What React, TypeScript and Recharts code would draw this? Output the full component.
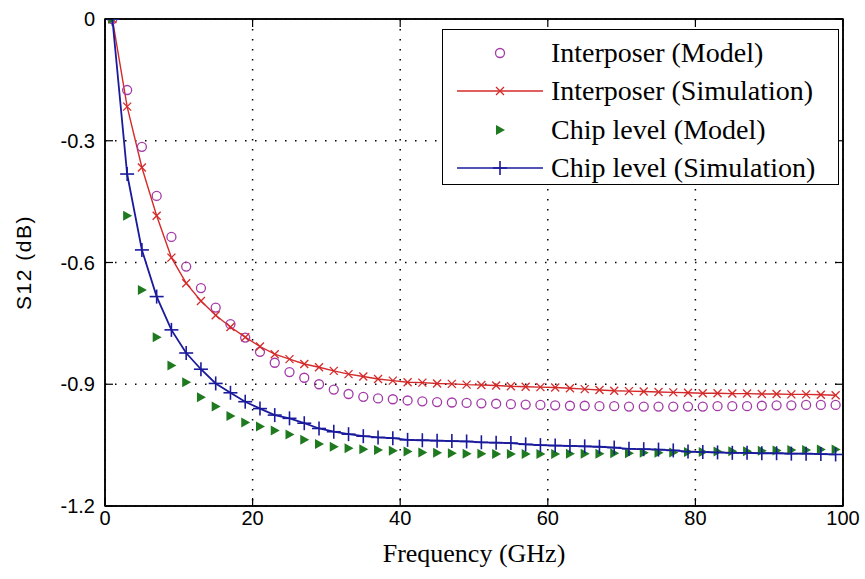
import React from "react";
import {
  LineChart,
  Line,
  XAxis,
  YAxis,
  CartesianGrid,
  Legend,
  ReferenceArea,
} from "recharts";

// frequency points (GHz)
const FREQ = [
  1, 3, 5, 7, 9, 11, 13, 15, 17, 19, 21, 23, 25, 27, 29, 31, 33, 35, 37, 39,
  41, 43, 45, 47, 49, 51, 53, 55, 57, 59, 61, 63, 65, 67, 69, 71, 73, 75, 77, 79,
  81, 83, 85, 87, 89, 91, 93, 95, 97, 99,
];

// S12 (dB)
const INTERPOSER_MODEL = [
  0, -0.175, -0.315, -0.436, -0.537, -0.61, -0.663, -0.711, -0.752, -0.785,
  -0.82, -0.847, -0.87, -0.884, -0.9, -0.913, -0.924, -0.931, -0.935, -0.937,
  -0.94, -0.942, -0.944, -0.945, -0.946, -0.947, -0.948, -0.949, -0.95, -0.951,
  -0.952, -0.953, -0.953, -0.954, -0.954, -0.955, -0.955, -0.955, -0.955, -0.955,
  -0.955, -0.954, -0.954, -0.954, -0.953, -0.952, -0.952, -0.951, -0.951, -0.951,
];
const INTERPOSER_SIM = [
  0, -0.216, -0.366, -0.485, -0.588, -0.651, -0.695, -0.73, -0.759, -0.784,
  -0.807, -0.826, -0.838, -0.85, -0.858, -0.867, -0.875, -0.881, -0.887, -0.891,
  -0.895, -0.896, -0.898, -0.899, -0.901, -0.902, -0.903, -0.905, -0.906, -0.907,
  -0.908, -0.91, -0.912, -0.914, -0.916, -0.917, -0.918, -0.919, -0.92, -0.921,
  -0.922, -0.922, -0.923, -0.923, -0.924, -0.924, -0.925, -0.925, -0.926, -0.927,
];
const CHIP_MODEL = [
  0, -0.485, -0.668, -0.784, -0.854, -0.895, -0.932, -0.955, -0.978, -0.994,
  -1.004, -1.014, -1.024, -1.037, -1.047, -1.054, -1.058, -1.06, -1.062, -1.064,
  -1.066, -1.068, -1.069, -1.07, -1.071, -1.071, -1.072, -1.072, -1.072, -1.072,
  -1.072, -1.071, -1.071, -1.071, -1.07, -1.07, -1.069, -1.069, -1.068, -1.067,
  -1.067, -1.066, -1.065, -1.065, -1.064, -1.063, -1.062, -1.062, -1.061, -1.061,
];
const CHIP_SIM = [
  0, -0.382, -0.569, -0.684, -0.766, -0.823, -0.863, -0.898, -0.921, -0.943,
  -0.96, -0.976, -0.984, -0.996, -1.009, -1.017, -1.023, -1.028, -1.031, -1.033,
  -1.037, -1.038, -1.039, -1.04, -1.041, -1.043, -1.044, -1.045, -1.048, -1.05,
  -1.051, -1.052, -1.053, -1.054, -1.056, -1.059, -1.06, -1.061, -1.063, -1.066,
  -1.067, -1.068, -1.069, -1.069, -1.07, -1.07, -1.071, -1.071, -1.072, -1.073,
];

const X_TICKS = [0, 20, 40, 60, 80, 100];
const Y_TICKS = [-1.2, -0.9, -0.6, -0.3, 0];

const LEGEND_LABELS = [
  "Interposer (Model)",
  "Interposer (Simulation)",
  "Chip level (Model)",
  "Chip level (Simulation)",
];

const MAGENTA = "#a33aa8";
const RED = "#d42a2a";
const GREEN = "#1f7a1f";
const BLUE = "#1a1a9c";

const SANS = "Liberation Sans, Arial, sans-serif";
const SERIF = "Liberation Serif, Times New Roman, serif";
const TICK_LEN = 8;

const chartRows = FREQ.map((f, i) => ({
  f,
  im: INTERPOSER_MODEL[i],
  is: INTERPOSER_SIM[i],
  cm: CHIP_MODEL[i],
  cs: CHIP_SIM[i],
}));

function CircleMark({ cx, cy }: { cx: number; cy: number }) {
  return <circle cx={cx} cy={cy} r={4.5} fill="none" stroke={MAGENTA} strokeWidth={1.3} />;
}

function CrossMark({ cx, cy }: { cx: number; cy: number }) {
  const s = 4;
  return (
    <g stroke={RED} strokeWidth={1.3}>
      <line x1={cx - s} y1={cy - s} x2={cx + s} y2={cy + s} />
      <line x1={cx - s} y1={cy + s} x2={cx + s} y2={cy - s} />
    </g>
  );
}

function TriangleMark({ cx, cy }: { cx: number; cy: number }) {
  return <polygon points={`${cx - 4},${cy - 5} ${cx + 5},${cy} ${cx - 4},${cy + 5}`} fill={GREEN} />;
}

function PlusMark({ cx, cy }: { cx: number; cy: number }) {
  const s = 7;
  return (
    <g stroke={BLUE} strokeWidth={1.6}>
      <line x1={cx - s} y1={cy} x2={cx + s} y2={cy} />
      <line x1={cx} y1={cy - s} x2={cx} y2={cy + s} />
    </g>
  );
}

const MARKS = [CircleMark, CrossMark, TriangleMark, PlusMark];
const LEGEND_LINES = [null, RED, null, BLUE];

// tick label plus an inward tick mark (MATLAB style)
function BottomTick({ x, y, payload }: any) {
  return (
    <g>
      <line x1={x} y1={y} x2={x} y2={y - TICK_LEN} stroke="#000" strokeWidth={1.2} />
      <text x={x} y={y + 19} textAnchor="middle" fontFamily={SANS} fontSize={20} fill="#000">
        {payload.value}
      </text>
    </g>
  );
}

function LeftTick({ x, y, payload }: any) {
  return (
    <g>
      <line x1={x} y1={y} x2={x + TICK_LEN} y2={y} stroke="#000" strokeWidth={1.2} />
      <text x={x - 10} y={y + 7} textAnchor="end" fontFamily={SANS} fontSize={20} fill="#000">
        {payload.value}
      </text>
    </g>
  );
}

function TopTick({ x, y }: any) {
  return <line x1={x} y1={y} x2={x} y2={y + TICK_LEN} stroke="#000" strokeWidth={1.2} />;
}

function RightTick({ x, y }: any) {
  return <line x1={x} y1={y} x2={x - TICK_LEN} y2={y} stroke="#000" strokeWidth={1.2} />;
}

function XTitle({ viewBox }: any) {
  const { x, y, width } = viewBox;
  return (
    <text x={x + width / 2} y={y + 56} textAnchor="middle" fontFamily={SERIF} fontSize={26} fill="#000">
      Frequency (GHz)
    </text>
  );
}

function LegendBox() {
  return (
    <div
      style={{
        width: 397,
        height: 156,
        boxSizing: "border-box",
        border: "1.5px solid #000",
        background: "#fff",
        paddingTop: 4,
      }}
    >
      {LEGEND_LABELS.map((label, i) => {
        const Mark = MARKS[i];
        const lineColor = LEGEND_LINES[i];
        return (
          <div key={label} style={{ display: "flex", alignItems: "center", height: 38.3 }}>
            <svg width={108} height={20} style={{ flex: "none" }}>
              {lineColor && <line x1={14} y1={10} x2={100} y2={10} stroke={lineColor} strokeWidth={1.4} />}
              <Mark cx={57} cy={10} />
            </svg>
            <span style={{ fontFamily: SERIF, fontSize: 28, color: "#000", whiteSpace: "nowrap" }}>{label}</span>
          </div>
        );
      })}
    </div>
  );
}

export default function App() {
  return (
    <div style={{ position: "absolute", left: 0, top: 0, width: 865, height: 579, background: "#fff" }}>
      <LineChart width={865} height={579} data={chartRows} margin={{ top: 0, right: 0, bottom: 0, left: 0 }}>
        <CartesianGrid stroke="#000" strokeWidth={1.5} strokeDasharray="1.5 8.5" />
        <ReferenceArea x1={0} x2={100} y1={-1.2} y2={0} ifOverflow="visible" fill="none" stroke="#000" strokeWidth={1.5} />
        <XAxis
          dataKey="f"
          type="number"
          domain={[0, 100]}
          ticks={X_TICKS}
          allowDataOverflow
          height={73}
          tickSize={0}
          tickMargin={0}
          tickLine={false}
          axisLine={{ stroke: "#000", strokeWidth: 1.5 }}
          tick={(p: any) => <BottomTick {...p} />}
          label={(p: any) => <XTitle {...p} />}
        />
        <XAxis
          xAxisId="top"
          orientation="top"
          dataKey="f"
          type="number"
          domain={[0, 100]}
          ticks={X_TICKS}
          allowDataOverflow
          height={19}
          tickSize={0}
          tickMargin={0}
          tickLine={false}
          axisLine={{ stroke: "#000", strokeWidth: 1.5 }}
          tick={(p: any) => <TopTick {...p} />}
        />
        <YAxis
          type="number"
          domain={[-1.2, 0]}
          ticks={Y_TICKS}
          allowDataOverflow
          width={105}
          tickSize={0}
          tickMargin={0}
          tickLine={false}
          axisLine={{ stroke: "#000", strokeWidth: 1.5 }}
          tick={(p: any) => <LeftTick {...p} />}
          label={{
            value: "S12 (dB)",
            angle: -90,
            position: "insideLeft",
            offset: 24,
            fontFamily: SANS,
            fontSize: 21,
            letterSpacing: 1.5,
            fill: "#000",
            style: { textAnchor: "middle" },
          }}
        />
        <YAxis
          yAxisId="right"
          orientation="right"
          type="number"
          domain={[-1.2, 0]}
          ticks={Y_TICKS}
          allowDataOverflow
          width={22}
          tickSize={0}
          tickMargin={0}
          tickLine={false}
          axisLine={{ stroke: "#000", strokeWidth: 1.5 }}
          tick={(p: any) => <RightTick {...p} />}
        />
        <Legend
          layout="horizontal"
          verticalAlign="middle"
          align="center"
          wrapperStyle={{ position: "absolute", left: 442, top: 29, width: 397, height: 156 }}
          content={() => <LegendBox />}
        />
        {/* hidden series tying the top/right box axes to the data */}
        <Line
          xAxisId="top"
          yAxisId="right"
          dataKey="cs"
          stroke="none"
          dot={false}
          activeDot={false}
          legendType="none"
          isAnimationActive={false}
        />
        <Line
          dataKey="im"
          stroke="none"
          isAnimationActive={false}
          activeDot={false}
          dot={(p: any) => <CircleMark key={`im${p.index}`} cx={p.cx} cy={p.cy} />}
        />
        <Line
          dataKey="is"
          stroke={RED}
          strokeWidth={1.4}
          isAnimationActive={false}
          activeDot={false}
          dot={(p: any) => <CrossMark key={`is${p.index}`} cx={p.cx} cy={p.cy} />}
        />
        <Line
          dataKey="cm"
          stroke="none"
          isAnimationActive={false}
          activeDot={false}
          dot={(p: any) => <TriangleMark key={`cm${p.index}`} cx={p.cx} cy={p.cy} />}
        />
        <Line
          dataKey="cs"
          stroke={BLUE}
          strokeWidth={1.8}
          isAnimationActive={false}
          activeDot={false}
          dot={(p: any) => <PlusMark key={`cs${p.index}`} cx={p.cx} cy={p.cy} />}
        />
      </LineChart>
    </div>
  );
}
